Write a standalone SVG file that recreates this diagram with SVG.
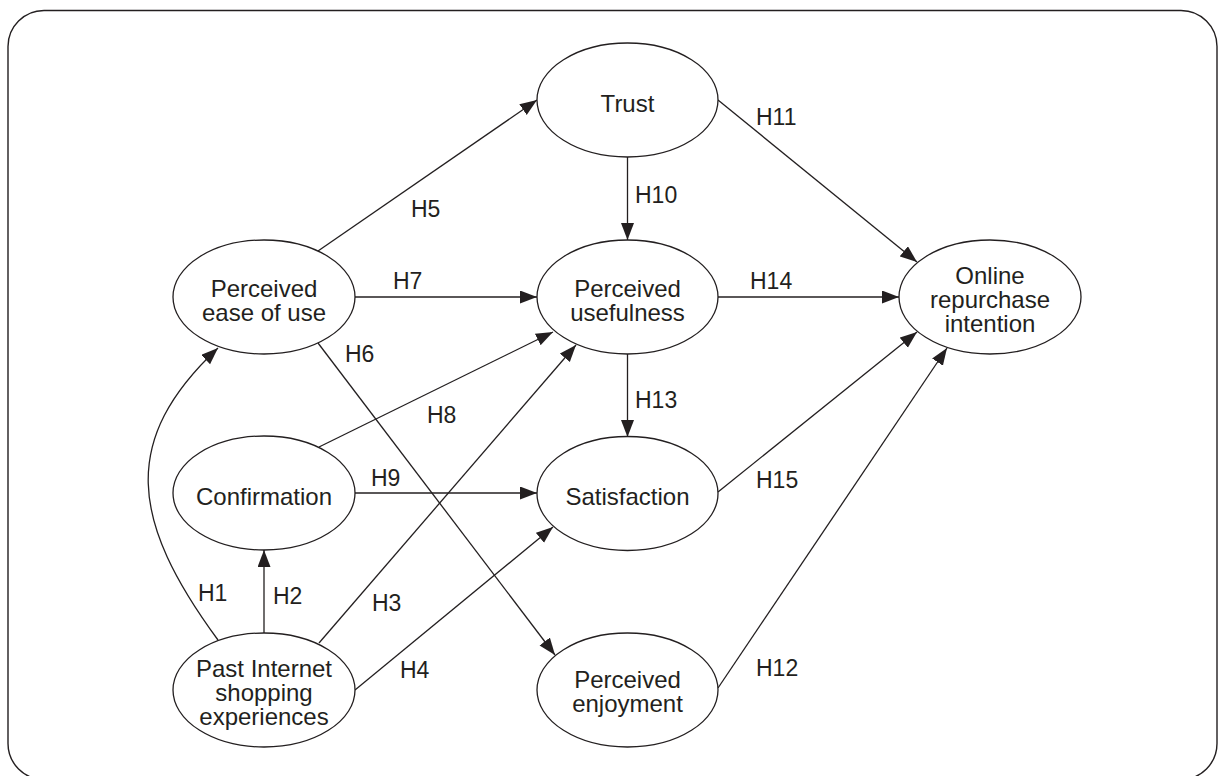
<svg xmlns="http://www.w3.org/2000/svg" width="1218" height="776" viewBox="0 0 1218 776">
<style>
.frame{fill:#fff;stroke:#231f20;stroke-width:1.4}
.node ellipse{fill:#fff;stroke:#231f20;stroke-width:1.3}
.node text{font-family:"Liberation Sans",Arial,sans-serif;font-size:24px;fill:#231f20;text-anchor:middle}
.edge{fill:none;stroke:#231f20;stroke-width:1.3;marker-end:url(#arr)}
.lbl{font-family:"Liberation Sans",Arial,sans-serif;font-size:23px;fill:#231f20}
</style>
<defs>
<marker id="arr" markerUnits="userSpaceOnUse" markerWidth="18" markerHeight="14" refX="17" refY="6.5" orient="auto">
<path d="M0,0 L17,6.5 L0,13 z" fill="#231f20"/>
</marker>
</defs>
<rect class="frame" x="8" y="10.5" width="1209" height="769" rx="36" ry="36"/>
<g id="connectors">
<path class="edge" d="M218,640 C130,520 120,440 218,348"/>
<line class="edge" x1="264" y1="633" x2="264" y2="550"/>
<line class="edge" x1="319" y1="643" x2="576" y2="345"/>
<line class="edge" x1="355" y1="690" x2="553" y2="527"/>
<line class="edge" x1="318" y1="251" x2="537" y2="100"/>
<line class="edge" x1="318" y1="343" x2="555" y2="655"/>
<line class="edge" x1="355" y1="297" x2="537" y2="297"/>
<line class="edge" x1="319" y1="447" x2="553" y2="332"/>
<line class="edge" x1="355" y1="493" x2="537" y2="493"/>
<line class="edge" x1="627.5" y1="157" x2="627.5" y2="240"/>
<line class="edge" x1="718" y1="100" x2="917" y2="262"/>
<line class="edge" x1="718" y1="688" x2="947" y2="348"/>
<line class="edge" x1="627.5" y1="354" x2="627.5" y2="437"/>
<line class="edge" x1="718" y1="297" x2="899" y2="297"/>
<line class="edge" x1="718" y1="492" x2="917" y2="332"/>
<text class="lbl" x="198" y="601">H1</text>
<text class="lbl" x="273" y="604">H2</text>
<text class="lbl" x="372" y="611">H3</text>
<text class="lbl" x="400" y="678">H4</text>
<text class="lbl" x="411" y="217">H5</text>
<text class="lbl" x="345" y="362">H6</text>
<text class="lbl" x="393" y="289">H7</text>
<text class="lbl" x="427" y="423">H8</text>
<text class="lbl" x="371" y="486">H9</text>
<text class="lbl" x="635" y="203">H10</text>
<text class="lbl" x="756" y="125">H11</text>
<text class="lbl" x="756" y="676">H12</text>
<text class="lbl" x="635" y="408">H13</text>
<text class="lbl" x="750" y="289">H14</text>
<text class="lbl" x="756" y="488">H15</text>
</g>
<g id="trust" class="node"><ellipse cx="627.5" cy="100" rx="90.5" ry="57"/><text x="627.5" y="112">Trust</text></g>
<g id="perceived-usefulness" class="node"><ellipse cx="627.5" cy="297" rx="90.5" ry="57"/><text x="627.5" y="297">Perceived</text><text x="627.5" y="321">usefulness</text></g>
<g id="satisfaction" class="node"><ellipse cx="627.5" cy="493.5" rx="90.5" ry="57"/><text x="627.5" y="505">Satisfaction</text></g>
<g id="perceived-enjoyment" class="node"><ellipse cx="627.5" cy="690" rx="90.5" ry="57"/><text x="627.5" y="688">Perceived</text><text x="627.5" y="712">enjoyment</text></g>
<g id="online-repurchase-intention" class="node"><ellipse cx="990" cy="297" rx="91" ry="57"/><text x="990" y="284">Online</text><text x="990" y="308">repurchase</text><text x="990" y="332">intention</text></g>
<g id="perceived-ease-of-use" class="node"><ellipse cx="264" cy="297" rx="91" ry="57"/><text x="264" y="297">Perceived</text><text x="264" y="321">ease of use</text></g>
<g id="confirmation" class="node"><ellipse cx="264" cy="493" rx="91" ry="57"/><text x="264" y="505">Confirmation</text></g>
<g id="past-internet-shopping-experiences" class="node"><ellipse cx="264" cy="690" rx="91" ry="57"/><text x="264" y="677">Past Internet</text><text x="264" y="701">shopping</text><text x="264" y="725">experiences</text></g>
</svg>
